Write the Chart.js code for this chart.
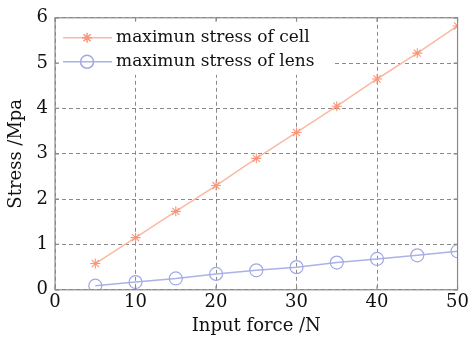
<!DOCTYPE html>
<html>
<head>
<meta charset="utf-8">
<script src="https://cdn.jsdelivr.net/npm/chart.js@4"></script>
<style>
  html, body { margin: 0; padding: 0; background: #fff; }
  #wrap { width: 471px; height: 340px; }
</style>
</head>
<body>
<div id="wrap"><canvas id="c" width="471" height="340"></canvas></div>
<script>
const forces = [5, 10, 15, 20, 25, 30, 35, 40, 45, 50];
const cellStress = [0.58, 1.15, 1.73, 2.30, 2.90, 3.47, 4.05, 4.65, 5.22, 5.82];
const lensStress = [0.09, 0.17, 0.25, 0.35, 0.43, 0.50, 0.60, 0.68, 0.76, 0.85];
const xTicks = [0, 10, 20, 30, 40, 50];
const yTicks = [0, 1, 2, 3, 4, 5, 6];

const FONT = '"DejaVu Serif", "Liberation Serif", serif';
const cellColor = '#f9b9a2', cellMark = '#f8957a';
const lensColor = '#aab2e6', lensMark = '#a0a9e4';

// frame, inward ticks and an in-plot legend with a line + marker
const framePlugin = {
  id: 'frame',
  afterDatasetsDraw(chart) {
    const { ctx, chartArea: a, scales: { x, y } } = chart;
    ctx.save();
    // legend box
    const lx = a.left + 2, ly = a.top + 3;
    ctx.fillStyle = '#fff';
    ctx.fillRect(lx, ly, 275, 54);
    ctx.font = '17px ' + FONT;
    ctx.textBaseline = 'middle';
    chart.data.datasets.forEach((ds, i) => {
      const yy = ly + 17 + i * 24;
      ctx.strokeStyle = ds.borderColor;
      ctx.lineWidth = 1.5;
      ctx.beginPath(); ctx.moveTo(lx + 6, yy); ctx.lineTo(lx + 55, yy); ctx.stroke();
      ctx.strokeStyle = ds.pointBorderColor;
      ctx.fillStyle = 'rgba(0,0,0,0)';
      Chart.helpers.drawPoint(ctx, { pointStyle: ds.pointStyle, radius: ds.pointRadius, borderWidth: 1.2, rotation: 0 }, lx + 30, yy);
      ctx.fillStyle = '#111';
      ctx.fillText(ds.label, lx + 59, yy);
    });
    // frame
    ctx.strokeStyle = '#8a8a8a';
    ctx.lineWidth = 1.2;
    ctx.setLineDash([]);
    ctx.strokeRect(a.left, a.top, a.right - a.left, a.bottom - a.top);
    ctx.beginPath();
    xTicks.forEach(v => {
      const px = x.getPixelForValue(v);
      ctx.moveTo(px, a.bottom); ctx.lineTo(px, a.bottom - 4);
      ctx.moveTo(px, a.top); ctx.lineTo(px, a.top + 4);
    });
    yTicks.forEach(v => {
      const py = y.getPixelForValue(v);
      ctx.moveTo(a.left, py); ctx.lineTo(a.left + 4, py);
      ctx.moveTo(a.right, py); ctx.lineTo(a.right - 4, py);
    });
    ctx.stroke();
    ctx.restore();
  }
};

new Chart(document.getElementById('c'), {
  type: 'line',
  data: {
    datasets: [
      {
        label: 'maximun stress of cell',
        data: forces.map((f, i) => ({ x: f, y: cellStress[i] })),
        borderColor: cellColor, borderWidth: 1.5,
        pointStyle: 'star', pointRadius: 5, pointBorderColor: cellMark, pointBorderWidth: 1.1,
        pointBackgroundColor: 'transparent', tension: 0
      },
      {
        label: 'maximun stress of lens',
        data: forces.map((f, i) => ({ x: f, y: lensStress[i] })),
        borderColor: lensColor, borderWidth: 1.5,
        pointStyle: 'circle', pointRadius: 6.5, pointBorderColor: lensMark, pointBorderWidth: 1.2,
        pointBackgroundColor: 'transparent', tension: 0
      }
    ]
  },
  options: {
    responsive: false,
    animation: false,
    layout: { padding: { left: 6, right: 12, top: 4, bottom: 3 } },
    plugins: { legend: { display: false }, tooltip: { enabled: false } },
    scales: {
      x: {
        type: 'linear', min: 0, max: 50,
        afterBuildTicks: s => { s.ticks = xTicks.map(v => ({ value: v })); },
        grid: { color: '#8a8a8a', lineWidth: 1, drawTicks: false },
        border: { display: false, dash: [4, 3] },
        ticks: { color: '#111', font: { family: FONT, size: 18 }, padding: 2, maxRotation: 0 },
        title: { display: true, text: 'Input force /N', color: '#111', font: { family: FONT, size: 18 }, padding: { top: 0, bottom: 0 } }
      },
      y: {
        type: 'linear', min: 0, max: 6,
        afterBuildTicks: s => { s.ticks = yTicks.map(v => ({ value: v })); },
        grid: { color: '#8a8a8a', lineWidth: 1, drawTicks: false },
        border: { display: false, dash: [4, 3] },
        ticks: { color: '#111', font: { family: FONT, size: 18 }, padding: 7 },
        title: { display: true, text: 'Stress /Mpa', color: '#111', font: { family: FONT, size: 18 }, padding: { top: 0, bottom: 2 } }
      }
    }
  },
  plugins: [framePlugin]
});
</script>
</body>
</html>
